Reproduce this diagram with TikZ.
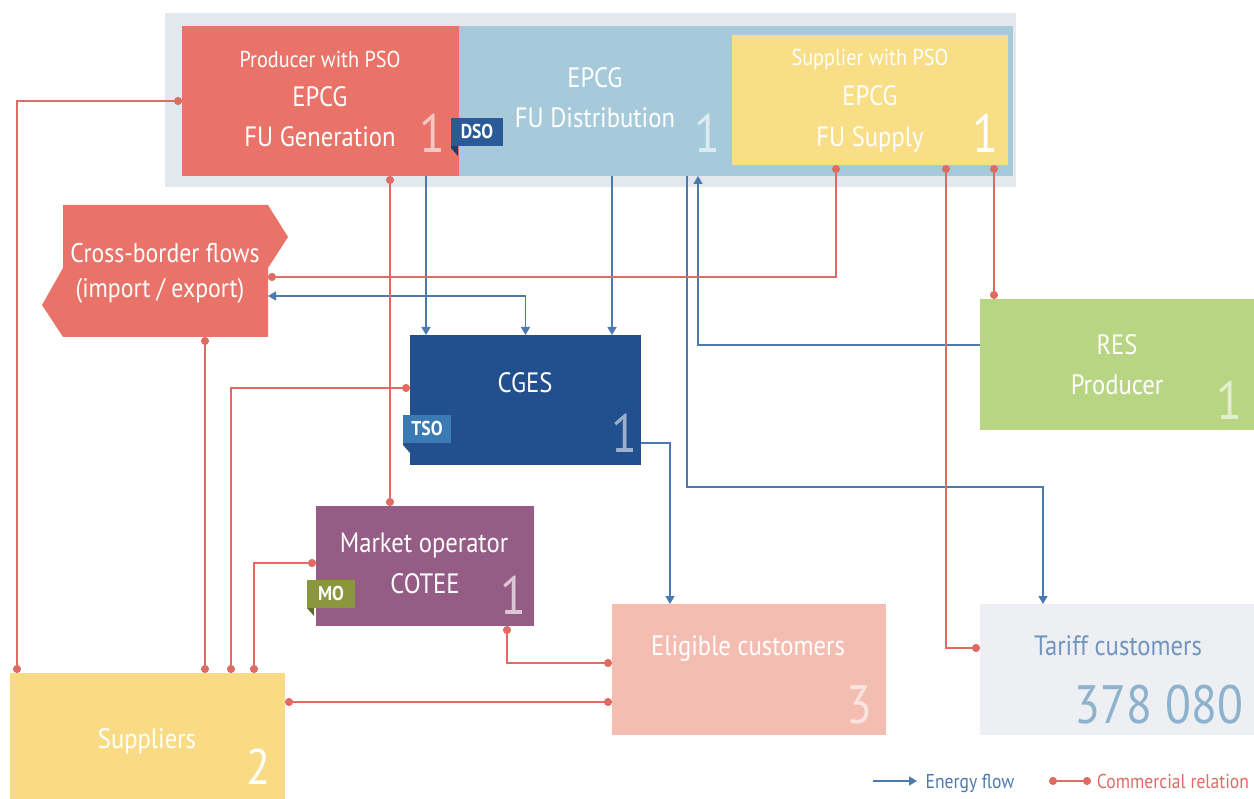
\documentclass[tikz,border=0pt]{standalone}
\usepackage{fontspec}
\setmainfont{PT Sans}[FakeStretch=0.88]
\usetikzlibrary{arrows.meta}
\definecolor{cframe}{HTML}{E3E8EE}
\definecolor{cprod}{HTML}{EA7369}
\definecolor{cdist}{HTML}{A7CADB}
\definecolor{csupply}{HTML}{F8DE87}
\definecolor{ccges}{HTML}{22508F}
\definecolor{cmo}{HTML}{955C86}
\definecolor{celig}{HTML}{F4BDB1}
\definecolor{ctariff}{HTML}{EDEFF2}
\definecolor{cres}{HTML}{B8D584}
\definecolor{csup}{HTML}{F8DB84}
\definecolor{cred}{HTML}{E06B63}
\definecolor{cblue}{HTML}{4C7AB0}
\definecolor{cdso}{HTML}{2A5A98}
\definecolor{ctso}{HTML}{3A7BB5}
\definecolor{cmotag}{HTML}{8A973C}
\newcommand\fsz[1]{\fontsize{#1}{#1}\selectfont}
\begin{document}
\begin{tikzpicture}[x=1pt,y=-1pt,
  box/.style={rectangle,draw=none,inner sep=0pt,outer sep=0pt},
  lbl/.style={text=white,inner sep=0pt,anchor=base,font=\fsz{28}},
  small/.style={lbl,font=\fsz{23}},
  num/.style={inner sep=0pt,anchor=base,font=\fsz{54}},
  tagtxt/.style={text=white,font=\bfseries\fsz{20},inner sep=0pt},
  comm/.style={draw=cred,line width=1.7pt,{Circle[length=8pt]}-{Circle[length=8pt]}},
  energy/.style={draw=cblue,line width=1.4pt,-{Triangle[length=8pt,width=9pt]}},
  energyboth/.style={draw=cblue,line width=1.4pt,{Triangle[length=8pt,width=9pt]}-{Triangle[length=8pt,width=9pt]}}]
\useasboundingbox (0,0) rectangle (1254,799);

% ---- top group
\node[box,fill=cframe,minimum width=851,minimum height=174] (frame) at (590.5,100) {};
\node[box,fill=cdist,minimum width=554,minimum height=150] (dist) at (736,101) {};
\node[box,fill=cprod,minimum width=277,minimum height=150] (prod) at (320.5,101) {};
\node[box,fill=csupply,minimum width=276,minimum height=130] (supply) at (870,100) {};

\node[small] (prodA) at (320,68) {Producer with PSO};
\node[lbl] (prodB) at (320,107) {EPCG};
\node[lbl] (prodC) at (320,147) {FU Generation};
\node[num,text=cprod!40!white] (prodN) at (432,153) {1};

\node[lbl] (distA) at (595,88) {EPCG};
\node[lbl] (distB) at (595,128) {FU Distribution};
\node[num,text=cdist!40!white] (distN) at (707,153) {1};

\node[small] (supA) at (870,66) {Supplier with PSO};
\node[lbl] (supB) at (870,106) {EPCG};
\node[lbl] (supC) at (870,147) {FU Supply};
\node[num,text=white] (supN) at (985,153) {1};

% ---- cross-border
\fill[cprod] (63,205) -- (268,205) -- (288,237) -- (268,268) -- (268,337) -- (63,337) -- (42,305) -- (63,268) -- cycle;
\coordinate (cbR1) at (268,277);
\coordinate (cbR2) at (268,296);
\coordinate (cbB) at (205,337);
\node[lbl,font=\fsz{27}] (cbA) at (165,263) {Cross-border flows};
\node[lbl,font=\fsz{27}] (cbT) at (160,298) {(import / export)};

% ---- other boxes
\node[box,fill=ccges,minimum width=231,minimum height=130] (cges) at (525.5,400) {};
\node[lbl] (cgesA) at (525,393) {CGES};
\node[num,text=ccges!45!white] (cgesN) at (624,453) {1};

\node[box,fill=cmo,minimum width=218,minimum height=120] (mo) at (425,566) {};
\node[lbl] (moA) at (424,553) {Market operator};
\node[lbl] (moB) at (425,593) {COTEE};
\node[num,text=cmo!35!white] (moN) at (513,614) {1};

\node[box,fill=celig,minimum width=274,minimum height=131] (elig) at (749,669.5) {};
\node[lbl] (eligA) at (748,655) {Eligible customers};
\node[num,text=celig!40!white] (eligN) at (859,723) {3};

\node[box,fill=ctariff,minimum width=274,minimum height=131] (tariff) at (1117,669.5) {};
\node[lbl,text=cblue!80!white] (tarA) at (1118,655) {Tariff customers};
\node[inner sep=0pt,anchor=base,font=\fsz{54},text=cdist!70!cblue] (tarN) at (1159,723) {378 080};

\node[box,fill=cres,minimum width=274,minimum height=131] (res) at (1117,364.5) {};
\node[lbl] (resA) at (1117,355) {RES};
\node[lbl] (resB) at (1117,395) {Producer};
\node[num,text=cres!40!white] (resN) at (1229,420) {1};

\node[box,fill=csup,minimum width=275,minimum height=126] (sup) at (147.5,736) {};
\node[lbl] (supL) at (147,748) {Suppliers};
\node[num,text=white,font=\fsz{50}] (supLN) at (258,784) {2};

% ---- helper coordinates
\coordinate (x426) at (426,0);
\coordinate (x612) at (612,0);
\coordinate (t1) at (687,487);
\coordinate (x1043) at (1043,0);
\coordinate (x698) at (698,0);
\coordinate (x670) at (670,0);
\coordinate (x390) at (390,0);
\coordinate (x836) at (836,0);
\coordinate (x946) at (946,0);
\coordinate (x994) at (994,0);
\coordinate (x17) at (17,0);
\coordinate (x205) at (205,0);
\coordinate (x231) at (231,0);
\coordinate (x254) at (254,0);
\coordinate (x507) at (507,0);

% ---- energy flows
\draw[energy] (prod.south -| x426) -- (cges.north -| x426);
\draw[energy] (dist.south -| x612) -- (cges.north -| x612);
\draw[energyboth] (cbR2) -| (cges.north);
\draw[energy] (dist.south -| t1) -- (t1) -| (tariff.north -| x1043);
\draw[energy] ([yshift=19.5pt]res.west) -| (dist.south -| x698);
\draw[energy] ([yshift=-43pt]cges.east) -| (elig.north -| x670);

% ---- commercial relations
\draw[comm] (prod.west) -| (sup.north -| x17);
\draw[comm] (prod.south -| x390) -- (mo.north -| x390);
\draw[comm] (supply.south -| x836) |- (cbR1);
\draw[comm] (supply.south -| x946) |- ([yshift=21.5pt]tariff.west);
\draw[comm] (supply.south -| x994) -- (res.north -| x994);
\draw[comm] (cbB) -- (sup.north -| x205);
\draw[comm] ([yshift=12pt]cges.west) -| (sup.north -| x231);
\draw[comm] ([yshift=3pt]mo.west) -| (sup.north -| x254);
\draw[comm] (mo.south -| x507) |- ([yshift=6.5pt]elig.west);
\draw[comm] ([yshift=34pt]sup.east) -- ([yshift=-32.5pt]elig.west);

% ---- tags
\fill[cdso!70!black] (451,140) -- (451,148) -- (458,156) -- (458,146) -- cycle;
\node[box,fill=cdso,minimum width=52,minimum height=28,anchor=north west] (dsoTag) at (451,118) {};
\node[tagtxt] (dsoT) at (dsoTag.center) {DSO};
\fill[ctso!70!black] (403,437) -- (403,445) -- (410,453) -- (410,443) -- cycle;
\node[box,fill=ctso,minimum width=48,minimum height=28,anchor=north west] (tsoTag) at (403,415) {};
\node[tagtxt] (tsoT) at (tsoTag.center) {TSO};
\fill[cmotag!70!black] (307,600) -- (307,608) -- (314,616) -- (314,606) -- cycle;
\node[box,fill=cmotag,minimum width=48,minimum height=28,anchor=north west] (moTag) at (307,580) {};
\node[tagtxt] (moT) at (moTag.center) {MO};

% ---- legend
\coordinate (le1) at (873,781);
\coordinate (le2) at (917,781);
\draw[energy] (le1) -- (le2);
\node[inner sep=0pt,anchor=base,font=\fsz{20},text=cblue] (legE) at (970,788) {Energy flow};
\coordinate (lc1) at (1049,781);
\coordinate (lc2) at (1091,781);
\draw[comm] (lc1) -- (lc2);
\node[inner sep=0pt,anchor=base,font=\fsz{20},text=cred] (legC) at (1173,788) {Commercial relation};
\end{tikzpicture}
\end{document}
